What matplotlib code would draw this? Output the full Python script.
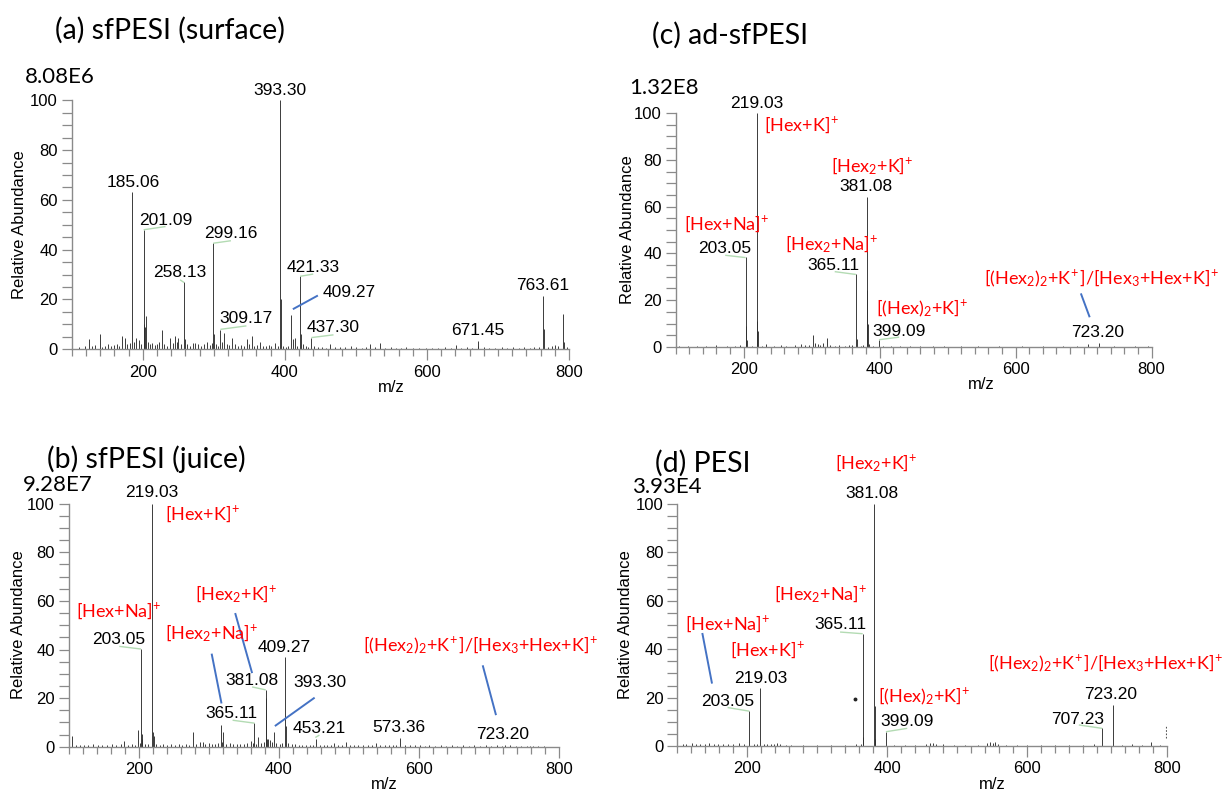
import matplotlib
matplotlib.use('Agg')
import matplotlib.pyplot as plt
from matplotlib.ticker import MultipleLocator

plt.rcParams['font.family'] = ['Liberation Sans', 'DejaVu Sans']
plt.rcParams['mathtext.fontset'] = 'custom'
plt.rcParams['mathtext.rm'] = 'Lato'
plt.rcParams['mathtext.it'] = 'Lato:italic'
plt.rcParams['mathtext.bf'] = 'Lato:bold'
plt.rcParams['mathtext.default'] = 'rm'

# ---------------- data ----------------
titles = ['(a) sfPESI (surface)', '(b) sfPESI (juice)', '(c) ad-sfPESI', '(d) PESI']
scales = ['8.08E6', '9.28E7', '1.32E8', '3.93E4']

a_mz = [110, 118, 124.8, 129, 133, 139.6, 143, 147, 151, 155, 159, 163, 167, 171, 175, 178, 182,
        185.06, 187, 190.4, 194.6, 197, 201.09, 202.1, 203.1, 205.1, 207, 210, 213, 217, 220, 223,
        226.6, 230, 234, 238.3, 242, 245.4, 248, 250, 254, 258.13, 259.1, 262, 266, 270, 274, 278,
        282, 286, 290.4, 294, 297, 299.16, 300.2, 303, 306, 309.17, 311, 314.8, 318, 322, 326, 330,
        334, 338, 342, 346.3, 349, 353.4, 357, 361, 365, 369, 373, 377, 381, 386, 390, 393.30, 394.3,
        397, 401, 405, 409.27, 411, 414.4, 417, 421.33, 422.3, 425, 430, 433, 437.30, 441, 447, 452,
        458, 463.7, 470, 478, 485, 493, 500, 508, 514, 520, 527, 534, 541, 549, 556, 563, 571, 580,
        589, 598, 607, 616, 626, 634, 640.7, 648, 656, 664, 671.45, 672.5, 680, 688, 696, 705, 713,
        721, 729, 737, 745, 750, 757, 763.61, 764.6, 770, 776, 780, 785, 791.6, 792.6, 797]
a_int = [1.0, 1.5, 4.0, 1.2, 1.8, 6.0, 1.0, 1.5, 2.0, 1.2, 1.8, 2.2, 1.5, 5.4, 4.7, 2.0, 2.5,
         63.0, 3.0, 4.4, 3.6, 2.0, 48.0, 10.0, 9.1, 13.4, 3.0, 2.2, 2.5, 1.8, 2.2, 3.0,
         7.8, 2.0, 1.5, 4.4, 2.5, 5.4, 3.0, 4.4, 2.0, 27.0, 4.0, 2.0, 1.5, 2.5, 2.7, 2.0,
         1.5, 2.0, 3.0, 1.8, 2.5, 42.6, 6.0, 2.0, 1.5, 7.8, 3.0, 6.5, 2.0, 1.8, 4.4, 2.0,
         1.5, 1.8, 1.2, 4.0, 2.0, 5.4, 1.5, 1.8, 3.0, 1.5, 1.2, 1.8, 1.5, 2.4, 1.5, 100.0, 20.0,
         1.5, 1.0, 1.5, 13.6, 4.0, 4.7, 1.5, 29.3, 6.0, 2.0, 1.2, 1.0, 4.7, 1.2, 0.8, 1.0,
         0.7, 2.3, 0.8, 1.0, 0.8, 1.2, 0.8, 0.6, 0.8, 2.3, 0.8, 2.7, 0.7, 0.8, 0.6, 0.7, 0.8, 0.6,
         0.7, 0.6, 0.7, 0.6, 0.8, 0.7, 1.9, 0.7, 0.8, 0.6, 3.2, 1.5, 0.8, 0.7, 0.6, 0.8, 0.7,
         0.8, 0.6, 0.8, 0.7, 1.1, 0.8, 21.2, 8.0, 0.8, 1.2, 1.7, 1.5, 14.0, 3.0, 0.8]

b_mz = [104, 110, 116, 122, 128, 135, 141, 148, 155, 161, 168, 174, 179, 185, 190, 194, 198.3, 201,
        203.05, 204.05, 205.05, 209, 213, 219.03, 220.03, 221.03, 225, 230, 235, 240, 246, 251, 257,
        262, 268, 272, 276.8, 281, 286.6, 291, 295, 300, 305, 309, 313, 316.8, 319, 320.7, 325, 330,
        335, 340, 345, 350, 355, 360, 363, 365.11, 367, 369.5, 374, 378, 381.08, 382.08, 383.5, 385,
        387.5, 390, 393.30, 396, 401, 405, 409.27, 410.27, 413, 418, 423, 428, 433, 438, 444, 448,
        453.21, 458, 464, 469, 474, 479.3, 485, 490, 495.6, 501, 507, 513, 520, 527, 533, 539, 545,
        551, 557, 563, 567, 573.36, 580, 587, 594, 601, 608, 615, 623, 631, 639, 647, 655, 663, 671,
        679, 687, 695, 703, 711, 719, 723.20, 730, 738, 746, 754, 759, 763, 770, 778]
b_int = [4.4, 0.8, 0.6, 0.9, 0.7, 1.0, 0.6, 0.8, 0.7, 1.0, 0.8, 1.1, 2.5, 0.9, 1.2, 0.8, 6.8, 1.5,
         40.2, 5.3, 3.0, 1.0, 1.2, 100.0, 6.0, 4.5, 1.0, 0.8, 1.2, 0.9, 1.3, 0.8, 1.1,
         0.9, 1.0, 0.8, 6.0, 1.2, 1.9, 2.0, 1.0, 1.4, 1.2, 1.0, 1.6, 8.8, 2.0, 6.0, 1.2, 1.5,
         1.0, 1.3, 1.0, 1.2, 1.4, 2.5, 1.5, 9.7, 1.2, 4.2, 1.5, 2.0, 23.4, 20.0, 3.0, 3.0,
         2.7, 2.0, 6.0, 1.5, 1.2, 1.5, 36.8, 8.5, 1.5, 1.2, 1.0, 0.8, 0.9, 0.8, 0.7, 0.8,
         3.3, 0.7, 0.8, 0.7, 0.8, 1.4, 0.7, 0.8, 1.9, 0.7, 0.6, 0.8, 0.6, 0.7, 0.8, 1.5, 0.7,
         0.6, 0.7, 0.6, 0.8, 3.4, 0.6, 0.7, 0.6, 0.7, 0.5, 0.6, 0.5, 0.6, 0.5, 0.6, 0.5, 0.6, 0.5,
         0.6, 0.5, 0.6, 0.5, 0.6, 0.5, 0.7, 0.6, 0.5, 0.5, 0.5, 0.5, 0.4, 0.4, 0.4]

c_mz = [105, 118, 131, 145, 160, 175, 188, 195, 203.05, 204.05, 205.05, 212, 219.03, 220.03, 221.03,
        227, 233, 245, 255, 263, 275.6, 285, 291, 296, 302.5, 305, 309, 313, 317, 322, 327, 335, 341,
        349, 355, 360, 365.11, 366.1, 372, 376, 381.08, 382.08, 383.08, 385, 390, 399.09, 405, 417,
        430, 445, 460, 478, 495, 520, 545, 575, 610, 640, 670, 690, 707.23, 723.20, 745, 775, 795]
c_int = [0.5, 0.4, 0.6, 0.5, 0.7, 0.5, 0.6, 0.8, 38.5, 8.8, 3.0, 0.5, 100.0, 11.0, 7.0,
         0.6, 1.4, 0.6, 0.7, 0.5, 1.0, 1.4, 1.0, 0.8, 5.0, 1.5, 1.2, 1.0, 1.5, 4.0, 0.8, 0.6, 0.8,
         0.6, 0.7, 0.8, 31.0, 3.2, 0.6, 0.8, 64.2, 24.4, 10.0, 1.2, 0.6, 3.1, 0.5, 0.6,
         0.4, 0.5, 0.4, 0.4, 0.5, 0.3, 0.4, 0.3, 0.4, 0.3, 0.3, 0.4, 1.2, 1.5, 0.3, 0.3, 0.3]

d_mz = [108, 113, 121, 127, 133, 140, 146, 152, 158, 166, 172, 180, 188, 195, 203.05, 210, 214,
        219.03, 224, 229, 234, 238, 243, 247, 255, 262, 280, 300, 320, 340, 355, 362, 365.11, 366.11,
        381.08, 382.08, 383.08, 399.09, 410, 425, 440, 455, 461, 466, 470, 480, 495, 512, 530, 543,
        547, 551, 554, 558, 570, 585, 600, 620, 640, 660, 680, 695, 707.23, 723.20, 735, 750, 765,
        777.7, 790]
d_int = [1.0, 0.8, 1.2, 0.8, 1.0, 0.9, 1.2, 0.8, 1.0, 0.9, 1.0, 0.8, 1.1, 0.9, 14.5, 1.0, 0.8,
         23.8, 1.0, 0.8, 1.0, 0.9, 1.2, 1.0, 0.6, 0.5, 0.6, 0.5, 0.6, 0.5, 0.8, 1.0, 46.4, 3.8,
         100.0, 16.4, 3.0, 5.9, 0.6, 0.5, 0.6, 0.8, 1.2, 1.4, 1.0, 0.7, 0.5, 0.5, 0.6, 1.2,
         1.7, 1.3, 1.7, 1.0, 0.6, 0.5, 0.6, 0.5, 0.6, 0.5, 0.6, 0.7, 7.3, 17.0, 0.6, 0.7, 0.6,
         1.5, 0.6]
d_dot_mz = [354]
d_dot_int = [19.4]
d_dash_mz = [798.7]
d_dash_lo = [3.5]
d_dash_hi = [8.5]

HEXK = r'[Hex+K]$^{\!+}$'
HEXNA = r'[Hex+Na]$^{\!+}$'
HEX2K = r'[Hex$_2$+K]$^{\!+}$'
HEX2NA = r'[Hex$_2$+Na]$^{\!+}$'
HEXD = r'[(Hex)$_2$+K]$^{\!+}$'
BIG = r'[(Hex$_2$)$_2$+K$^{\!+}$]/[Hex$_3$+Hex+K]$^{\!+}$'

# ---------------- figure ----------------
W, H = 1223, 796
fig = plt.figure(figsize=(W / 100, H / 100), dpi=100)

GREY = '#8a8a8a'
GREEN = '#b3dbb3'
BLUE = '#4472c4'
RED = '#ff0000'
PEAK = '#2e2e2e'


def px(x, y):
    return x / W, 1 - y / H


def make_ax(rect, mz, inten):
    ax = fig.add_axes(rect)
    ax.vlines(mz, 0, inten, colors=PEAK, lw=0.65)
    ax.set_xlim(100, 800)
    ax.set_ylim(0, 100)
    for s in ['top', 'right']:
        ax.spines[s].set_visible(False)
    for s in ['left', 'bottom']:
        ax.spines[s].set_color(GREY)
        ax.spines[s].set_linewidth(1.0)
    ax.xaxis.set_major_locator(MultipleLocator(200))
    ax.xaxis.set_minor_locator(MultipleLocator(20))
    ax.yaxis.set_major_locator(MultipleLocator(20))
    ax.yaxis.set_minor_locator(MultipleLocator(5))
    ax.tick_params(axis='both', which='both', color=GREY, direction='out', labelsize=12, width=0.9)
    ax.tick_params(axis='x', which='major', length=8, pad=3)
    ax.tick_params(axis='x', which='minor', length=5)
    ax.tick_params(axis='y', which='both', length=7, pad=3)
    ax.annotate('m/z', xy=(550, 0), xycoords=('data', 'axes fraction'), xytext=(0, -38),
                textcoords='offset pixels', ha='center', va='center', fontsize=12)
    return ax


def lab(ax, s, x, y):
    ax.text(x, y, s, ha='center', va='center', fontsize=12.5, clip_on=False)


def red(ax, s, x, y):
    ax.text(x, y, s, ha='left', va='center', fontsize=13, color=RED, family='Lato', clip_on=False)


def line(ax, x0, y0, x1, y1, c, lw):
    ax.plot([x0, x1], [y0, y1], color=c, lw=lw, clip_on=False, solid_capstyle='butt')


# Panel (a)
axa = make_ax([0.0587, 0.5612, 0.4066, 0.3128], a_mz, a_int)
for s, x, y in [('393.30', 393.3, 104), ('185.06', 186, 67), ('201.09', 232, 51.7),
                ('299.16', 324, 46.4), ('258.13', 252.4, 31.0), ('421.33', 439.8, 33),
                ('409.27', 489.8, 23), ('309.17', 345.8, 12.5), ('437.30', 468.4, 8.8),
                ('671.45', 671, 7.4), ('763.61', 763, 25.5)]:
    lab(axa, s, x, y)
line(axa, 201.09, 48, 232, 49.3, GREEN, 1)
line(axa, 299.16, 42.6, 324, 43.6, GREEN, 1)
line(axa, 252.4, 27.9, 258.13, 26.8, GREEN, 1)
line(axa, 421.33, 29.3, 439.8, 30.2, GREEN, 1)
line(axa, 309.17, 8.0, 345.8, 9.4, GREEN, 1)
line(axa, 437.3, 4.7, 468.4, 5.8, GREEN, 1)
line(axa, 446.4, 21.6, 411.2, 16.1, BLUE, 1.4)

# Panel (c)
axc = make_ax([0.5524, 0.5641, 0.3892, 0.2939], c_mz, c_int)
for s, x, y in [('219.03', 219.1, 104.2), ('381.08', 380, 68.5), ('203.05', 172, 42),
                ('365.11', 332, 34.7), ('399.09', 428.8, 6.8), ('723.20', 720, 6.2)]:
    lab(axc, s, x, y)
for s, x, y in [(HEXK, 230.6, 95), (HEX2K, 329, 77.4), (HEXNA, 113, 52.6),
                (HEX2NA, 260.5, 44.1), (HEXD, 394.3, 16.5), (BIG, 553.4, 29.3)]:
    red(axc, s, x, y)
line(axc, 173, 39.2, 203.05, 38.2, GREEN, 1)
line(axc, 334, 32.2, 365.11, 31, GREEN, 1)
line(axc, 399.09, 3.1, 428.8, 4.2, GREEN, 1)
line(axc, 696, 22.9, 709, 12.7, BLUE, 1.4)

# Panel (b)
axb = make_ax([0.0563, 0.0619, 0.4008, 0.3053], b_mz, b_int)
for s, x, y in [('219.03', 218.3, 104.5), ('203.05', 171, 44), ('381.08', 361.7, 27.3),
                ('365.11', 332.8, 13.7), ('409.27', 407.9, 41), ('393.30', 458.8, 26.6),
                ('453.21', 457, 7.5), ('573.36', 571, 7.9), ('723.20', 720, 5.2)]:
    lab(axb, s, x, y)
for s, x, y in [(HEXK, 237.7, 95.9), (HEXNA, 109.5, 56), (HEX2K, 280.3, 62.8),
                (HEX2NA, 237.7, 46.7), (BIG, 520.3, 41.7)]:
    red(axb, s, x, y)
line(axb, 172, 41.3, 203.05, 40.2, GREEN, 1)
line(axb, 361.7, 24.6, 381.08, 23.4, GREEN, 1)
line(axb, 333.8, 10.9, 365.11, 9.7, GREEN, 1)
line(axb, 452, 3.8, 457.8, 4.8, GREEN, 1)
line(axb, 337.5, 55, 361.7, 30.3, BLUE, 1.4)
line(axb, 303.9, 38.3, 318, 17.8, BLUE, 1.4)
line(axb, 451, 20.2, 394.2, 8.5, BLUE, 1.4)
line(axb, 691, 33.5, 710, 13, BLUE, 1.4)

# Panel (d)
axd = make_ax([0.5537, 0.0628, 0.4005, 0.3040], d_mz, d_int)
for s, x, y in [('381.08', 378.9, 104.4), ('365.11', 332.8, 50.1), ('219.03', 219, 28),
                ('203.05', 172, 18.3), ('399.09', 428.8, 10), ('723.20', 719.4, 21.4),
                ('707.23', 673, 11)]:
    lab(axd, s, x, y)
for s, x, y in [(HEX2K, 325.6, 116.8), (HEX2NA, 238.5, 62.9), (HEXNA, 111, 50.5),
                (HEXK, 174.8, 39.6), (HEXD, 387.2, 20.7), (BIG, 544.7, 34)]:
    red(axd, s, x, y)
line(axd, 332.8, 47.1, 365.11, 46.4, GREEN, 1)
line(axd, 172, 15.9, 203.05, 14.4, GREEN, 1)
line(axd, 398.3, 5.9, 428.8, 7.3, GREEN, 1)
line(axd, 674, 8.7, 707.23, 7.3, GREEN, 1)
line(axd, 135.9, 46.7, 149.8, 25.8, BLUE, 1.4)
axd.plot(d_dot_mz, d_dot_int, 'o', ms=1.8, color='#222222')
axd.vlines(d_dash_mz, d_dash_lo, d_dash_hi, colors='#555555', lw=0.8, linestyles=(0, (1.5, 1.5)))

# Titles, scale factors, y labels
for t, (x, y) in zip(titles, [(55, 30), (47, 459), (652, 35), (655, 463)]):
    fig.text(*px(x, y), t, ha='left', va='center', fontsize=20.5, family='Lato')
for t, (x, y) in zip(scales, [(25, 77), (23, 485), (629, 88), (632, 487)]):
    fig.text(*px(x, y), t, ha='left', va='center', fontsize=16, family='Lato')
for x, y in [(20, 225), (18.5, 625), (628, 230), (626, 625)]:
    fig.text(*px(x, y), 'Relative Abundance', ha='center', va='center', rotation=90, fontsize=12)

fig.savefig('out.png', dpi=100)
